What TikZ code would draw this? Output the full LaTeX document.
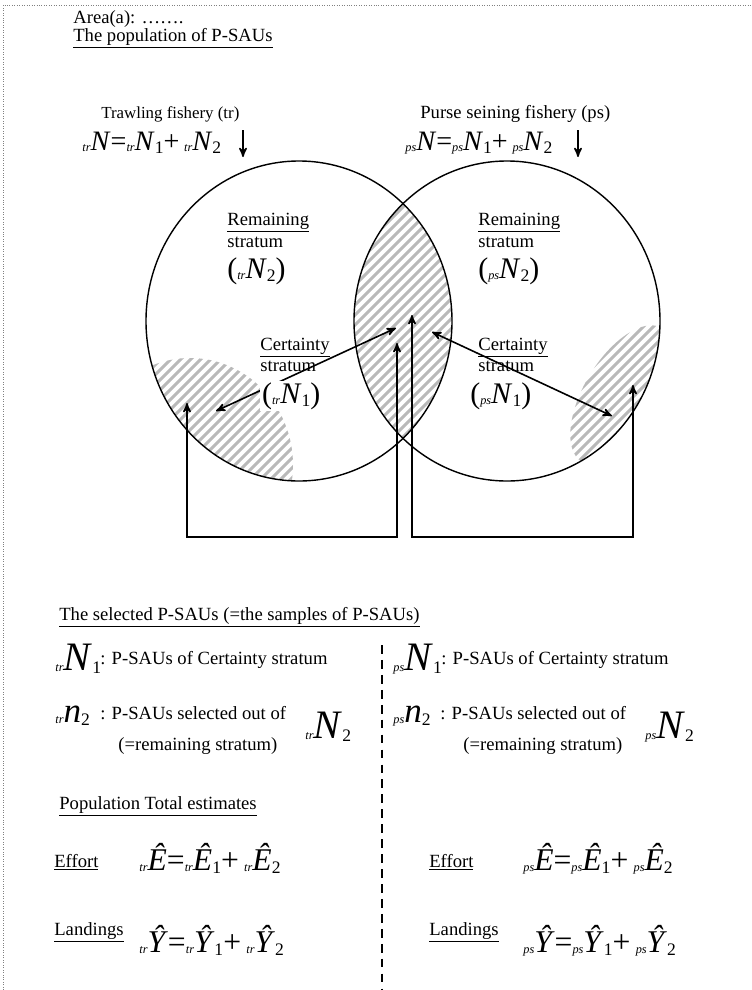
\documentclass[tikz,border=0pt]{standalone}
\usepackage{fontspec}
\setmainfont{Liberation Serif}
\usepackage{tikz}
\usetikzlibrary{arrows}

% left and right indices round a letter
\newcommand{\pv}[3]{{\raisebox{-1pt}{\fontsize{7}{8}\selectfont\textit{#1}}\textit{#2}\raisebox{-2pt}{\fontsize{10}{12}\selectfont #3}}}

\begin{document}
\begin{tikzpicture}[>=stealth', font=\fontsize{10.6}{13}\selectfont]
        \tikzstyle{lbl}=[inner sep=0pt, anchor=base west]
        \tikzstyle{eqn}=[lbl, font=\fontsize{16}{19}\selectfont]
        \tikzstyle{eqnbig}=[lbl, font=\fontsize{23}{26}\selectfont]
        \tikzstyle{eqnmid}=[lbl, font=\fontsize{18}{21}\selectfont]
        \tikzstyle{hatch}=[gray!55, line width=1.8pt]
        \tikzstyle{link}=[<->, line width=0.9pt]

        \useasboundingbox (0,0) rectangle (15.04,-19.8);
        \draw[densely dotted, gray] (0.06,-19.8) -- (0.06,-0.1) -- (15.04,-0.1);

        % hatched parts
        \begin{scope}
            \clip (5.98,-6.42) ellipse (3.06 and 3.2);
            \clip (10.14,-6.42) ellipse (3.06 and 3.2);
            \foreach \i in {0,...,88} \draw[hatch] (-14.4+\i*0.2,-20) -- ++(20,20);
        \end{scope}
        \begin{scope}
            \clip (5.98,-6.42) ellipse (3.06 and 3.2);
            \clip (3.8,-9.3) ellipse (2.06 and 2.14);
            \foreach \i in {0,...,88} \draw[hatch] (-14.4+\i*0.2,-20) -- ++(20,20);
        \end{scope}
        \begin{scope}
            \clip (10.14,-6.42) ellipse (3.06 and 3.2);
            \clip[rotate around={59:(12.44,-7.9)}] (12.44,-7.9) ellipse (1.56 and 0.76);
            \foreach \i in {0,...,88} \draw[hatch] (-14.4+\i*0.2,-20) -- ++(20,20);
        \end{scope}

        \draw[line width=0.8pt] (5.98,-6.42) ellipse (3.06 and 3.2);
        \draw[line width=0.8pt] (10.14,-6.42) ellipse (3.06 and 3.2);

        % titles
        \node[lbl] (area) at (1.46,-0.46) {Area(a): …….};
        \node[lbl] (poptitle) at (1.46,-0.82) {\underline{The population of P-SAUs}};
        \node[lbl, font=\fontsize{9.6}{12}\selectfont] (trname) at (2.02,-2.36) {Trawling fishery (tr)};
        \node[eqn] (trtotal) at (1.64,-3.0) {\pv{tr}{N}{}=\pv{tr}{N}{1}+\,\pv{tr}{N}{2}};
        \node[lbl] (psname) at (8.4,-2.36) {Purse seining fishery (ps)};
        \node[eqn] (pstotal) at (8.1,-3.0) {\pv{ps}{N}{}=\pv{ps}{N}{1}+\,\pv{ps}{N}{2}};

        \coordinate (trtop) at (4.86,-2.6);
        \coordinate (trbot) at (4.86,-3.14);
        \coordinate (pstop) at (11.56,-2.6);
        \coordinate (psbot) at (11.56,-3.14);
        \draw[->, line width=0.9pt] (trtop) -- (trbot);
        \draw[->, line width=0.9pt] (pstop) -- (psbot);

        % strata
        \node[lbl] (trrem) at (4.54,-4.5) {\underline{Remaining}};
        \node[lbl] (trremst) at (4.54,-4.94) {stratum};
        \node[lbl, font=\fontsize{17}{20}\selectfont] (trremN) at (4.54,-5.56) {(\pv{tr}{N}{2})};
        \node[lbl] (psrem) at (9.56,-4.5) {\underline{Remaining}};
        \node[lbl] (psremst) at (9.56,-4.94) {stratum};
        \node[lbl, font=\fontsize{17}{20}\selectfont] (psremN) at (9.56,-5.56) {(\pv{ps}{N}{2})};
        \node[lbl] (trcer) at (5.2,-7.0) {\underline{Certainty}};
        \node[lbl] (trcerst) at (5.2,-7.43) {stratum};
        \node[lbl] (pscer) at (9.56,-7.0) {\underline{Certainty}};
        \node[lbl] (pscerst) at (9.56,-7.43) {stratum};

        \coordinate (lensA) at (7.92,-6.56);
        \coordinate (trhatchA) at (4.32,-8.22);
        \coordinate (lensB) at (7.94,-6.86);
        \coordinate (trhatchB) at (3.74,-8.06);
        \coordinate (lensC) at (8.24,-6.3);
        \coordinate (pshatchB) at (12.66,-7.7);
        \coordinate (lensD) at (8.64,-6.64);
        \coordinate (pshatchA) at (12.24,-8.32);
        \coordinate (base) at (0,-10.74);

        \draw[link] (lensA) -- (trhatchA);
        \draw[link] (lensD) -- (pshatchA);
        \draw[link] (trhatchB) -- (trhatchB |- base) -- (lensB |- base) -- (lensB);
        \draw[link] (lensC) -- (lensC |- base) -- (pshatchB |- base) -- (pshatchB);

        \node[lbl, fill=white, inner sep=1pt, font=\fontsize{17}{20}\selectfont] (trcerN) at (5.2,-8.06) {(\pv{tr}{N}{1})};
        \node[lbl, font=\fontsize{17}{20}\selectfont] (pscerN) at (9.4,-8.06) {(\pv{ps}{N}{1})};

        % selected samples
        \node[lbl] (seltitle) at (1.18,-12.4) {\underline{The selected P-SAUs (=the samples of P-SAUs)}};
        \coordinate (divtop) at (7.64,-12.9);
        \coordinate (divbot) at (7.64,-19.8);
        \draw[dash pattern=on 5pt off 3.5pt, line width=0.6pt] (divtop) -- (divbot);

        \node[eqnbig] (trN1) at (1.1,-13.4) {\pv{tr}{N}{1}};
        \node[lbl] (trN1txt) at (2.0,-13.28) {: P-SAUs of Certainty stratum};
        \node[lbl, font=\fontsize{20}{23}\selectfont] (trn2) at (1.1,-14.44) {\pv{tr}{n}{2}};
        \node[lbl] (trn2txt) at (2.0,-14.38) {: P-SAUs selected out of};
        \node[lbl] (trn2rem) at (2.36,-15.0) {(=remaining stratum)};
        \node[eqnbig] (trN2) at (6.1,-14.76) {\pv{tr}{N}{2}};

        \node[eqnbig] (psN1) at (7.86,-13.4) {\pv{ps}{N}{1}};
        \node[lbl] (psN1txt) at (8.82,-13.28) {: P-SAUs of Certainty stratum};
        \node[lbl, font=\fontsize{20}{23}\selectfont] (psn2) at (7.86,-14.44) {\pv{ps}{n}{2}};
        \node[lbl] (psn2txt) at (8.8,-14.38) {: P-SAUs selected out of};
        \node[lbl] (psn2rem) at (9.26,-15.0) {(=remaining stratum)};
        \node[eqnbig] (psN2) at (12.9,-14.76) {\pv{ps}{N}{2}};

        % estimates
        \node[lbl] (esttitle) at (1.18,-16.18) {\underline{Population Total estimates}};
        \node[lbl] (treff) at (1.08,-17.34) {\underline{Effort}};
        \node[eqnmid] (trE) at (2.78,-17.4) {\pv{tr}{Ê}{}=\pv{tr}{Ê}{1}+\,\pv{tr}{Ê}{2}};
        \node[lbl] (trland) at (1.08,-18.7) {\underline{Landings}};
        \node[eqnmid] (trY) at (2.78,-19.04) {\pv{tr}{Ŷ}{}=\pv{tr}{Ŷ}{1}+\,\pv{tr}{Ŷ}{2}};
        \node[lbl] (pseff) at (8.58,-17.34) {\underline{Effort}};
        \node[eqnmid] (psE) at (10.46,-17.4) {\pv{ps}{Ê}{}=\pv{ps}{Ê}{1}+\,\pv{ps}{Ê}{2}};
        \node[lbl] (psland) at (8.58,-18.7) {\underline{Landings}};
        \node[eqnmid] (psY) at (10.46,-19.04) {\pv{ps}{Ŷ}{}=\pv{ps}{Ŷ}{1}+\,\pv{ps}{Ŷ}{2}};
\end{tikzpicture}
\end{document}
